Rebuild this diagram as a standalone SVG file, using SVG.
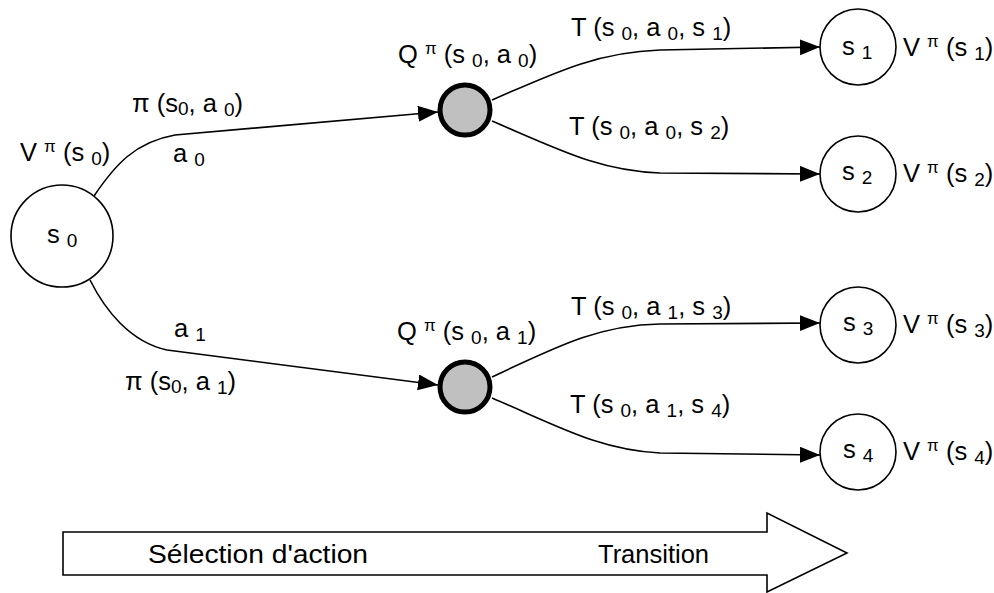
<svg xmlns="http://www.w3.org/2000/svg" width="994" height="593" viewBox="0 0 994 593">
<style>
text{font-family:"Liberation Sans",Arial,sans-serif;font-size:25.5px;fill:#000}
.sb{font-size:19px}
.sp{font-size:17px}
.st{fill:#fff;stroke:#000;stroke-width:1.6}
.q{fill:#c0c0c0;stroke:#000;stroke-width:5}
.e{fill:none;stroke:#000;stroke-width:1.6;marker-end:url(#ah)}
.big{font-size:25.5px}
</style>
<defs>
<marker id="ah" markerUnits="userSpaceOnUse" markerWidth="22" markerHeight="18" refX="20" refY="8" orient="auto" viewBox="0 0 22 18">
<path d="M0,0 L20,8 L0,16 Z" fill="#000"/>
</marker>
</defs>
<g id="connectors">
<path class="e" d="M94,196 C115,165 135,142 175,135 L438,112"/>
<path class="e" d="M90,280 C105,310 130,342 167,350 L438,385"/>
<path class="e" d="M492,100 C560,70 600,52 660,50 L820,47"/>
<path class="e" d="M492,121 C560,150 600,171 660,173 L820,174"/>
<path class="e" d="M492,377 C560,345 600,325 660,324 L820,323"/>
<path class="e" d="M492,398 C560,427 600,450 660,453 L820,455"/>
</g>
<g id="s0">
<circle class="st" cx="62" cy="236" r="51"/>
<text x="47" y="243">s <tspan class="sb" dy="4">0</tspan></text>
<text x="20" y="161">V <tspan class="sp" dy="-9">π</tspan><tspan dy="9"> (s </tspan><tspan class="sb" dy="4">0</tspan><tspan dy="-4">)</tspan></text>
</g>
<g id="q0">
<circle class="q" cx="465" cy="110" r="25"/>
<text x="398" y="63">Q <tspan class="sp" dy="-9">π</tspan><tspan dy="9"> (s </tspan><tspan class="sb" dy="4">0</tspan><tspan dy="-4">, a </tspan><tspan class="sb" dy="4">0</tspan><tspan dy="-4">)</tspan></text>
</g>
<g id="q1">
<circle class="q" cx="465" cy="387" r="25"/>
<text x="397" y="340">Q <tspan class="sp" dy="-9">π</tspan><tspan dy="9"> (s </tspan><tspan class="sb" dy="4">0</tspan><tspan dy="-4">, a </tspan><tspan class="sb" dy="4">1</tspan><tspan dy="-4">)</tspan></text>
</g>
<g id="s1">
<circle class="st" cx="858" cy="47" r="38"/>
<text x="842" y="55">s <tspan class="sb" dy="4">1</tspan></text>
<text x="903" y="56">V <tspan class="sp" dy="-9">π</tspan><tspan dy="9"> (s </tspan><tspan class="sb" dy="4">1</tspan><tspan dy="-4">)</tspan></text>
</g>
<g id="s2">
<circle class="st" cx="858" cy="174" r="38"/>
<text x="842" y="180">s <tspan class="sb" dy="4">2</tspan></text>
<text x="903" y="182">V <tspan class="sp" dy="-9">π</tspan><tspan dy="9"> (s </tspan><tspan class="sb" dy="4">2</tspan><tspan dy="-4">)</tspan></text>
</g>
<g id="s3">
<circle class="st" cx="858" cy="325" r="38"/>
<text x="843" y="331">s <tspan class="sb" dy="4">3</tspan></text>
<text x="903" y="333">V <tspan class="sp" dy="-9">π</tspan><tspan dy="9"> (s </tspan><tspan class="sb" dy="4">3</tspan><tspan dy="-4">)</tspan></text>
</g>
<g id="s4">
<circle class="st" cx="858" cy="452" r="38"/>
<text x="843" y="458">s <tspan class="sb" dy="4">4</tspan></text>
<text x="903" y="460">V <tspan class="sp" dy="-9">π</tspan><tspan dy="9"> (s </tspan><tspan class="sb" dy="4">4</tspan><tspan dy="-4">)</tspan></text>
</g>
<g id="labels">
<text x="132" y="112">π (s<tspan class="sb" dy="3">0</tspan><tspan dy="-3">, a </tspan><tspan class="sb" dy="4">0</tspan><tspan dy="-4">)</tspan></text>
<text x="173" y="162">a <tspan class="sb" dy="4">0</tspan></text>
<text x="174" y="337">a <tspan class="sb" dy="4">1</tspan></text>
<text x="125" y="390">π (s<tspan class="sb" dy="3">0</tspan><tspan dy="-3">, a </tspan><tspan class="sb" dy="4">1</tspan><tspan dy="-4">)</tspan></text>
<text x="571" y="36">T (s <tspan class="sb" dy="4">0</tspan><tspan dy="-4">, a </tspan><tspan class="sb" dy="4">0</tspan><tspan dy="-4">, s </tspan><tspan class="sb" dy="4">1</tspan><tspan dy="-4">)</tspan></text>
<text x="569" y="135">T (s <tspan class="sb" dy="4">0</tspan><tspan dy="-4">, a </tspan><tspan class="sb" dy="4">0</tspan><tspan dy="-4">, s </tspan><tspan class="sb" dy="4">2</tspan><tspan dy="-4">)</tspan></text>
<text x="571" y="315">T (s <tspan class="sb" dy="4">0</tspan><tspan dy="-4">, a </tspan><tspan class="sb" dy="4">1</tspan><tspan dy="-4">, s </tspan><tspan class="sb" dy="4">3</tspan><tspan dy="-4">)</tspan></text>
<text x="570" y="413">T (s <tspan class="sb" dy="4">0</tspan><tspan dy="-4">, a </tspan><tspan class="sb" dy="4">1</tspan><tspan dy="-4">, s </tspan><tspan class="sb" dy="4">4</tspan><tspan dy="-4">)</tspan></text>
</g>
<g id="timeline">
<polygon class="st" points="63,532 767,532 767,513 847,553 767,592 767,575 63,575"/>
<text class="big" x="148" y="563" textLength="220" lengthAdjust="spacingAndGlyphs">Sélection d'action</text>
<text class="big" x="598" y="563">Transition</text>
</g>
</svg>
